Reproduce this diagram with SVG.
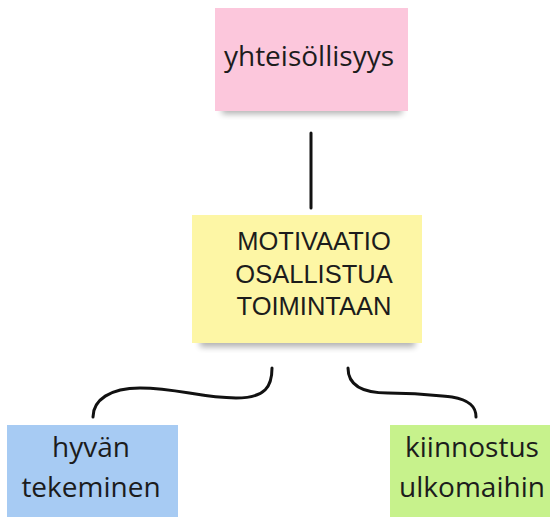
<svg xmlns="http://www.w3.org/2000/svg" width="557" height="517" viewBox="0 0 557 517">
<defs>
<filter id="sh" x="-20%" y="-20%" width="140%" height="160%">
<feGaussianBlur stdDeviation="3"/>
</filter>
</defs>
<style>
.lbl{font-family:"Open Sans","Liberation Sans",sans-serif;fill:#1c1c1c;text-anchor:middle}
.caps{font-family:"Liberation Sans",Arial,sans-serif;fill:#1c1c1c;text-anchor:middle}
.shadow{fill:#000;opacity:0.3}
.conn{fill:none;stroke:#111;stroke-width:3;stroke-linecap:round}
</style>
<rect width="557" height="517" fill="#fff"/>
<g id="connectors">
<line class="conn" x1="311" y1="133" x2="311" y2="208"/>
<path class="conn" d="M272,368 C272,386 266,398 236,398 C200,398 178,388 140,388 C110,388 93,400 93,417"/>
<path class="conn" d="M348,368 C348,384 360,393 388,393 C420,393 432,395 452,397 C470,400 476,407 476,417"/>
</g>
<g id="n1">
<rect class="shadow" x="222" y="100" width="180" height="14" filter="url(#sh)"/>
<rect x="215" y="8" width="193" height="103" fill="#fcc7dc"/>
<text class="lbl" x="309" y="66" font-size="28">yhteisöllisyys</text>
</g>
<g id="n2">
<rect class="shadow" x="200" y="332" width="215" height="15" filter="url(#sh)"/>
<rect x="192" y="215" width="230" height="128" fill="#fdf6a5"/>
<text class="caps" x="314" y="250" font-size="25.5">MOTIVAATIO</text>
<text class="caps" x="314" y="283" font-size="25.5">OSALLISTUA</text>
<text class="caps" x="314" y="315" font-size="25.5">TOIMINTAAN</text>
</g>
<g id="n3">
<rect x="7" y="425" width="171" height="92" fill="#a7cbf3"/>
<text class="lbl" x="91" y="457" font-size="28">hyvän</text>
<text class="lbl" x="91" y="497" font-size="28">tekeminen</text>
</g>
<g id="n4">
<rect x="390" y="425" width="160" height="92" fill="#c7f28c"/>
<text class="lbl" x="472" y="457" font-size="28">kiinnostus</text>
<text class="lbl" x="472" y="497" font-size="28">ulkomaihin</text>
</g>
</svg>
